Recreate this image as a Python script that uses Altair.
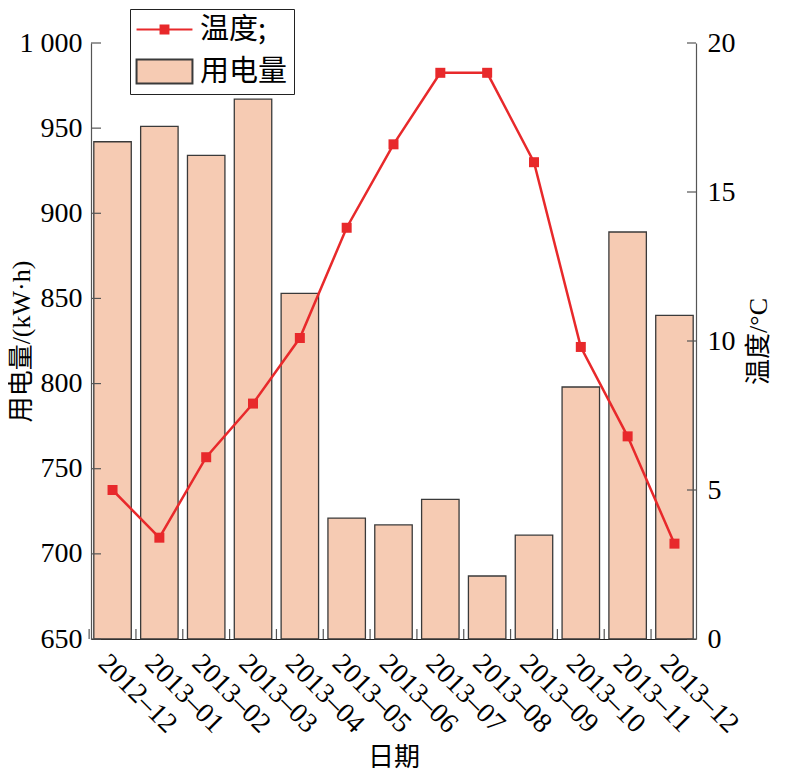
import altair as alt
import pandas as pd

# ---------------- data ----------------
months = ["2012–12", "2013–01", "2013–02", "2013–03", "2013–04", "2013–05", "2013–06",
          "2013–07", "2013–08", "2013–09", "2013–10", "2013–11", "2013–12"]
power = [942, 951, 934, 967, 853, 721, 717, 732, 687, 711, 798, 889, 840]
temperature = [5.0, 3.4, 6.1, 7.9, 10.1, 13.8, 16.6, 19.0, 19.0, 16.0, 9.8, 6.8, 3.2]
power_ticks = [650, 700, 750, 800, 850, 900, 950, 1000]
temp_ticks = [0, 5, 10, 15, 20]
series = ["温度;", "用电量"]
x_title = "日期"
y_left_title = "用电量/(kW·h)"
y_right_title = "温度/°C"

# ---------------- style ----------------
W, H = 605, 596
RED = "#e8292b"
PEACH = "#f6cbb3"
EDGE = "#3a3a3a"
AX = "#555555"
SERIF = "Liberation Serif"
CJK = "Noto Sans CJK SC"
MIXED = "Liberation Serif, Noto Sans CJK SC"
PAD_IN, PAD_OUT = 0.2, 0.06
step = W / (len(months) - PAD_IN + 2 * PAD_OUT)
gap_half = PAD_IN * step / 2

df = pd.DataFrame({"month": months, "power": power, "temp": temperature})

xscale = alt.Scale(domain=months, paddingInner=PAD_IN, paddingOuter=PAD_OUT)
pscale = alt.Scale(domain=[power_ticks[0], power_ticks[-1]], zero=False, nice=False)
tscale = alt.Scale(domain=[temp_ticks[0], temp_ticks[-1]], zero=False, nice=False)

x_axis = alt.Axis(
    title=x_title, labelAngle=45, labelAlign="left", labelBaseline="top",
    labelPadding=10, labelFont=SERIF, labelFontSize=28, labelColor="black",
    ticks=False, domainColor="#222222", domainWidth=1.2, labelOverlap=False,
    titleFont=CJK, titleFontSize=26, titleFontWeight="normal", titleColor="black",
    titlePadding=6, grid=False,
)

left_axis = alt.Axis(
    title=y_left_title, values=power_ticks,
    labelExpr="replace(format(datum.value, ','), ',', ' ')",
    ticks=False, labelPadding=9, labelFont=SERIF, labelFontSize=28, labelColor="black",
    domainColor=AX, domainWidth=1.2, grid=False,
    titleFont=MIXED, titleFontSize=26, titleFontWeight="normal", titleColor="black",
    titleAngle=270, titleBaseline="middle", titleX=-70, titleY=H / 2,
)

right_axis = alt.Axis(
    title=y_right_title, values=temp_ticks, orient="right",
    ticks=False, labelPadding=11, labelFont=SERIF, labelFontSize=28, labelColor="black",
    domainColor=AX, domainWidth=1.2, grid=False,
    titleFont=MIXED, titleFontSize=26, titleFontWeight="normal", titleColor="black",
    titleAngle=270, titleBaseline="middle", titleX=62, titleY=H / 2,
)

# ---------------- left (power) group ----------------
bars = alt.Chart(df).mark_bar(fill=PEACH, stroke=EDGE, strokeWidth=1.3).encode(
    x=alt.X("month:N", sort=months, scale=xscale, axis=x_axis),
    y=alt.Y("power:Q", scale=pscale, axis=left_axis),
    y2=alt.datum(power_ticks[0]),
)

left_ticks = alt.Chart(pd.DataFrame({"power": power_ticks})).mark_rule(
    color=AX, strokeWidth=1.2
).encode(
    y=alt.Y("power:Q", scale=pscale, axis=left_axis),
    x=alt.value(0), x2=alt.value(10),
)

bottom_ticks = alt.Chart(pd.DataFrame({"month": months})).mark_rule(
    color=AX, strokeWidth=1.2, xOffset=-gap_half
).encode(
    x=alt.X("month:N", sort=months, scale=xscale, axis=x_axis, bandPosition=0),
    y=alt.value(H), y2=alt.value(H - 10),
)

left_group = alt.layer(bars, left_ticks, bottom_ticks)

# ---------------- right (temperature) group ----------------
line = alt.Chart(df).mark_line(color=RED, strokeWidth=2.5).encode(
    x=alt.X("month:N", sort=months, scale=xscale, axis=x_axis),
    y=alt.Y("temp:Q", scale=tscale, axis=right_axis),
)
pts = alt.Chart(df).mark_point(shape="square", filled=True, size=100, color=RED, opacity=1).encode(
    x=alt.X("month:N", sort=months, scale=xscale, axis=x_axis),
    y=alt.Y("temp:Q", scale=tscale, axis=right_axis),
)
right_ticks = alt.Chart(pd.DataFrame({"temp": temp_ticks})).mark_rule(
    color=AX, strokeWidth=1.2
).encode(
    y=alt.Y("temp:Q", scale=tscale, axis=right_axis),
    x=alt.value(W - 9), x2=alt.value(W),
)
right_group = alt.layer(line, pts, right_ticks)

# ---------------- legend (from scales) ----------------
path_line = "M-2.33,0H2.33M-0.33,-0.33H0.33V0.33H-0.33Z"
path_rect = "M-2.33,-1H2.33V1H-2.33Z"
leg = alt.Legend(
    title=None, orient="none", legendX=39, legendY=-34, direction="vertical",
    padding=6, rowPadding=10, strokeColor="#222222", fillColor="white",
    symbolSize=576, symbolStrokeWidth=2, symbolOffset=14, labelOffset=21,
    labelFont=CJK, labelFontSize=29, labelColor="black",
)
legend_layer = alt.Chart(pd.DataFrame({"s": series})).transform_filter("false").mark_point(
    filled=True, opacity=1
).encode(
    fill=alt.Fill("s:N", scale=alt.Scale(domain=series, range=[RED, PEACH]), legend=leg),
    stroke=alt.Stroke("s:N", scale=alt.Scale(domain=series, range=[RED, EDGE]), legend=leg),
    shape=alt.Shape("s:N", scale=alt.Scale(domain=series, range=[path_line, path_rect]), legend=leg),
)

chart = alt.layer(left_group, right_group, legend_layer).resolve_scale(
    y="independent"
).properties(
    width=W, height=H, padding={"left": 0, "top": 0, "right": 4, "bottom": 0}
).configure_view(stroke=None)

chart.save("out.html", embed_options={"renderer": "svg", "actions": False})
